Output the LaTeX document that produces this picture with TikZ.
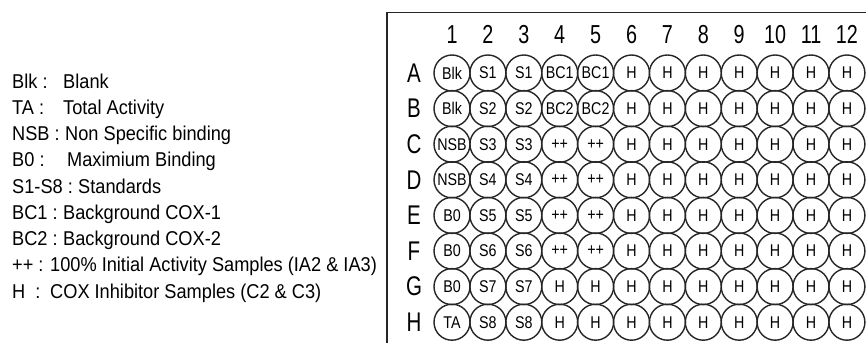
\documentclass[tikz,border=0pt]{standalone}
\usepackage{fontspec}
\setmainfont{Liberation Sans}[FakeStretch=0.91]
\newfontfamily\platefont{Liberation Sans}[FakeStretch=0.76]
\newfontfamily\wellfont{Liberation Sans}[FakeStretch=0.84]
\usetikzlibrary{positioning}

\tikzset{
  well/.style={circle,draw=black!85,line width=1.4pt,minimum size=36pt,inner sep=0pt,
    font=\wellfont\fontsize{17}{18}\selectfont},
  collab/.style={anchor=base,inner sep=0pt,font=\platefont\fontsize{26}{28}\selectfont},
  rowlab/.style={inner sep=0pt,font=\platefont\fontsize{27}{29}\selectfont},
  key/.style={anchor=base west,inner sep=0pt,font=\fontsize{20}{22}\selectfont},
}

\begin{document}
\begin{tikzpicture}[x=1pt,y=-1pt]
  \useasboundingbox (0,0) rectangle (866,343);
  \fill[white] (0,0) rectangle (866,343);

  % legend
  \node[key] (k1) at (12,88)    {Blk :};   \node[key] (d1) at (63,88)    {Blank};
  \node[key] (k2) at (12,114.3) {TA :};    \node[key] (d2) at (63,114.3) {Total Activity};
  \node[key] (k3) at (12,140.5) {NSB :};   \node[key] (d3) at (65,140.5) {Non Specific binding};
  \node[key] (k4) at (12,166.8) {B0 :};    \node[key] (d4) at (67,166.8) {Maximium Binding};
  \node[key] (k5) at (12,193)   {S1-S8 :}; \node[key] (d5) at (78,193)   {Standards};
  \node[key] (k6) at (12,219.3) {BC1 :};   \node[key] (d6) at (63,219.3) {Background COX-1};
  \node[key] (k7) at (12,245.5) {BC2 :};   \node[key] (d7) at (63,245.5) {Background COX-2};
  \node[key] (k8) at (12,271.8) {++ :};    \node[key] (d8) at (50,271.8) {100\% Initial Activity Samples (IA2 \& IA3)};
  \node[key] (k9) at (12,298)   {H \ :};   \node[key] (d9) at (50,298)   {COX Inhibitor Samples (C2 \& C3)};

  % plate frame
  \draw[line width=1.6pt,black!85] (866,12.5) -- (387,12.5) -- (387,343);

  % column numbers
  \foreach \j in {1,...,12}
    \node[collab] (col-\j) at (452+\j*35.9-35.9,43) {\j};

  % wells
  \foreach \r/\a/\b/\c [count=\i from 0] in {A/Blk/S1/BC1,B/Blk/S2/BC2,C/NSB/S3/{++},D/NSB/S4/{++},
      E/B0/S5/{++},F/B0/S6/{++},G/B0/S7/H,H/TA/S8/H} {
    \node[rowlab] (row-\r) at (414,73+\i*35.6) {\r};
    \foreach \j in {1,...,12} {
      \ifnum\j=1 \def\lab{\a}\else\ifnum\j<4 \def\lab{\b}\else\ifnum\j<6 \def\lab{\c}\else\def\lab{H}\fi\fi\fi
      \node[well] (w-\r\j) at (452+\j*35.9-35.9,73+\i*35.6) {\lab};
    }
  }
\end{tikzpicture}
\end{document}
